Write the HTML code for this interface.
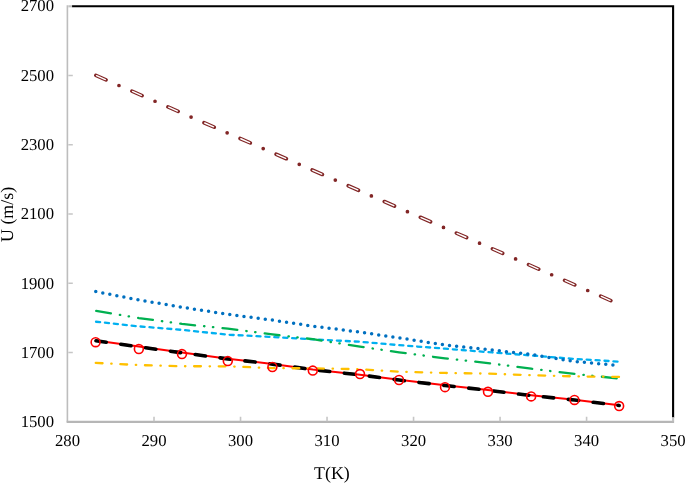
<!DOCTYPE html>
<html><head><meta charset="utf-8"><title>U vs T</title><style>
html,body{margin:0;padding:0;background:#fff;}
body{width:685px;height:483px;overflow:hidden;}
svg{display:block;}
text{font-family:"Liberation Serif","Times New Roman",serif;fill:#000;text-rendering:geometricPrecision;}
</style></head><body>
<svg width="685" height="483" viewBox="0 0 685 483">
<rect width="685" height="483" fill="#fff"/>
<path d="M72.0 6.3 H673.1 V417.8" fill="none" stroke="#000" stroke-width="2.1"/>
<line x1="67.4" x2="67.4" y1="5.2" y2="421.75" stroke="#bdbdbd" stroke-width="1.6"/>
<line x1="66.6" x2="674.1" y1="421.95" y2="421.95" stroke="#b6b6b6" stroke-width="2.2"/>
<line x1="68.3" x2="72.8" y1="352.50" y2="352.50" stroke="#c6c6c6" stroke-width="1.5"/>
<line x1="68.3" x2="72.8" y1="283.25" y2="283.25" stroke="#c6c6c6" stroke-width="1.5"/>
<line x1="68.3" x2="72.8" y1="214.00" y2="214.00" stroke="#c6c6c6" stroke-width="1.5"/>
<line x1="68.3" x2="72.8" y1="144.75" y2="144.75" stroke="#c6c6c6" stroke-width="1.5"/>
<line x1="68.3" x2="72.8" y1="75.50" y2="75.50" stroke="#c6c6c6" stroke-width="1.5"/>
<line x1="68.3" x2="72.1" y1="6.3" y2="6.3" stroke="#c2c2c2" stroke-width="2.1"/>
<text transform="translate(54 427.10)" font-size="16.7" text-anchor="end">1500</text>
<text transform="translate(54 357.85)" font-size="16.7" text-anchor="end">1700</text>
<text transform="translate(54 288.60)" font-size="16.7" text-anchor="end">1900</text>
<text transform="translate(54 219.35)" font-size="16.7" text-anchor="end">2100</text>
<text transform="translate(54 150.10)" font-size="16.7" text-anchor="end">2300</text>
<text transform="translate(54 80.85)" font-size="16.7" text-anchor="end">2500</text>
<text transform="translate(54 11.15)" font-size="16.7" text-anchor="end">2700</text>
<text transform="translate(67.50 446.45)" font-size="16.7" text-anchor="middle">280</text>
<line x1="154.01" x2="154.01" y1="421.25" y2="416.75" stroke="#c6c6c6" stroke-width="1.6"/>
<text transform="translate(154.01 446.45)" font-size="16.7" text-anchor="middle">290</text>
<line x1="240.53" x2="240.53" y1="421.25" y2="416.75" stroke="#c6c6c6" stroke-width="1.6"/>
<text transform="translate(240.53 446.45)" font-size="16.7" text-anchor="middle">300</text>
<line x1="327.04" x2="327.04" y1="421.25" y2="416.75" stroke="#c6c6c6" stroke-width="1.6"/>
<text transform="translate(327.04 446.45)" font-size="16.7" text-anchor="middle">310</text>
<line x1="413.56" x2="413.56" y1="421.25" y2="416.75" stroke="#c6c6c6" stroke-width="1.6"/>
<text transform="translate(413.56 446.45)" font-size="16.7" text-anchor="middle">320</text>
<line x1="500.07" x2="500.07" y1="421.25" y2="416.75" stroke="#c6c6c6" stroke-width="1.6"/>
<text transform="translate(500.07 446.45)" font-size="16.7" text-anchor="middle">330</text>
<line x1="586.59" x2="586.59" y1="421.25" y2="416.75" stroke="#c6c6c6" stroke-width="1.6"/>
<text transform="translate(586.59 446.45)" font-size="16.7" text-anchor="middle">340</text>
<line x1="673.10" x2="673.10" y1="421.25" y2="417.15" stroke="#c2c2c2" stroke-width="2.1"/>
<text transform="translate(673.10 446.45)" font-size="16.7" text-anchor="middle">350</text>
<text x="331.9" y="479.2" font-size="17.9" text-anchor="middle">T(K)</text>
<text transform="translate(12.5 214.4) rotate(-90)" font-size="17.9" text-anchor="middle">U (m/s)</text>
<polyline points="95.60,340.47 138.85,346.60 181.97,352.61 227.80,358.68 272.40,363.89 312.80,369.46 360.00,374.70 399.05,379.86 445.00,385.30 487.98,390.05 531.16,395.34 574.47,399.80 619.15,405.22" fill="none" stroke="#ff0000" stroke-width="2" stroke-linejoin="round"/>
<polyline points="95.60,340.67 138.85,346.80 181.97,352.81 227.80,358.88 272.40,364.09 312.80,369.66 360.00,374.90 399.05,380.06 445.00,385.50 487.98,390.25 531.16,395.54 574.47,400.00 619.15,405.42" fill="none" stroke="#000" stroke-width="3.6" stroke-dasharray="10.3 14.752" stroke-dashoffset="24.662" stroke-linecap="round" stroke-linejoin="round"/>
<polyline points="95.60,321.72 138.85,326.36 181.97,329.87 227.80,334.70 272.40,337.02 312.80,339.27 360.00,341.78 399.05,345.14 445.00,348.66 487.98,352.12 531.16,355.48 574.47,358.91 619.15,361.67" fill="none" stroke="#00b0f0" stroke-width="2.3" stroke-dasharray="4.1 4.848" stroke-dashoffset="8.518" stroke-linecap="round" stroke-linejoin="round"/>
<polyline points="95.60,310.88 138.85,318.02 181.97,323.94 227.80,328.63 272.40,334.41 312.80,339.19 360.00,346.64 399.05,352.29 445.00,358.35 487.98,363.06 531.16,368.69 574.47,373.93 619.15,378.56" fill="none" stroke="#00b050" stroke-width="2.3" stroke-dasharray="14.9 9.04 0.4 8.51 0.4 9.25" stroke-dashoffset="41.890" stroke-linecap="round" stroke-linejoin="round"/>
<polyline points="95.60,362.92 138.85,365.06 181.97,366.25 227.80,366.30 272.40,368.15 312.80,368.33 360.00,369.21 399.05,371.67 445.00,372.95 487.98,373.63 531.16,375.17 574.47,376.39 619.15,376.90" fill="none" stroke="#ffc000" stroke-width="2.3" stroke-dasharray="6.8 8.68 0.4 8.725" stroke-dashoffset="24.435" stroke-linecap="round" stroke-linejoin="round"/>
<polyline points="95.60,291.55 138.85,299.94 181.97,307.19 227.80,314.34 272.40,320.11 312.80,326.13 360.00,332.16 399.05,337.84 445.00,345.00 487.98,349.47 531.16,354.52 574.47,361.48 619.15,365.49" fill="none" stroke="#0070c0" stroke-width="3.5" stroke-dasharray="0 7.1576" stroke-dashoffset="6.988" stroke-linecap="round" stroke-linejoin="round"/>
<polyline points="95.60,75.27 619.15,304.26" fill="none" stroke="#822626" stroke-width="3.7" stroke-dasharray="11.1 14.13 0 14.125" stroke-dashoffset="39.075" stroke-linecap="round" stroke-linejoin="round"/>
<polyline points="95.60,75.27 619.15,304.26" fill="none" stroke="#ffffff" stroke-width="1.4" stroke-dasharray="9.6 29.755" stroke-dashoffset="38.325" stroke-linecap="round" stroke-linejoin="round"/>
<circle cx="95.60" cy="342.20" r="4.45" fill="none" stroke="#ff0000" stroke-width="1.6"/>
<circle cx="138.85" cy="348.98" r="4.45" fill="none" stroke="#ff0000" stroke-width="1.6"/>
<circle cx="181.97" cy="354.09" r="4.45" fill="none" stroke="#ff0000" stroke-width="1.6"/>
<circle cx="227.80" cy="361.10" r="4.45" fill="none" stroke="#ff0000" stroke-width="1.6"/>
<circle cx="272.40" cy="367.00" r="4.45" fill="none" stroke="#ff0000" stroke-width="1.6"/>
<circle cx="312.80" cy="370.60" r="4.45" fill="none" stroke="#ff0000" stroke-width="1.6"/>
<circle cx="360.00" cy="374.05" r="4.45" fill="none" stroke="#ff0000" stroke-width="1.6"/>
<circle cx="399.05" cy="380.00" r="4.45" fill="none" stroke="#ff0000" stroke-width="1.6"/>
<circle cx="445.00" cy="387.16" r="4.45" fill="none" stroke="#ff0000" stroke-width="1.6"/>
<circle cx="487.98" cy="391.80" r="4.45" fill="none" stroke="#ff0000" stroke-width="1.6"/>
<circle cx="531.16" cy="396.39" r="4.45" fill="none" stroke="#ff0000" stroke-width="1.6"/>
<circle cx="574.47" cy="399.97" r="4.45" fill="none" stroke="#ff0000" stroke-width="1.6"/>
<circle cx="619.15" cy="406.05" r="4.45" fill="none" stroke="#ff0000" stroke-width="1.6"/>
</svg>
</body></html>
